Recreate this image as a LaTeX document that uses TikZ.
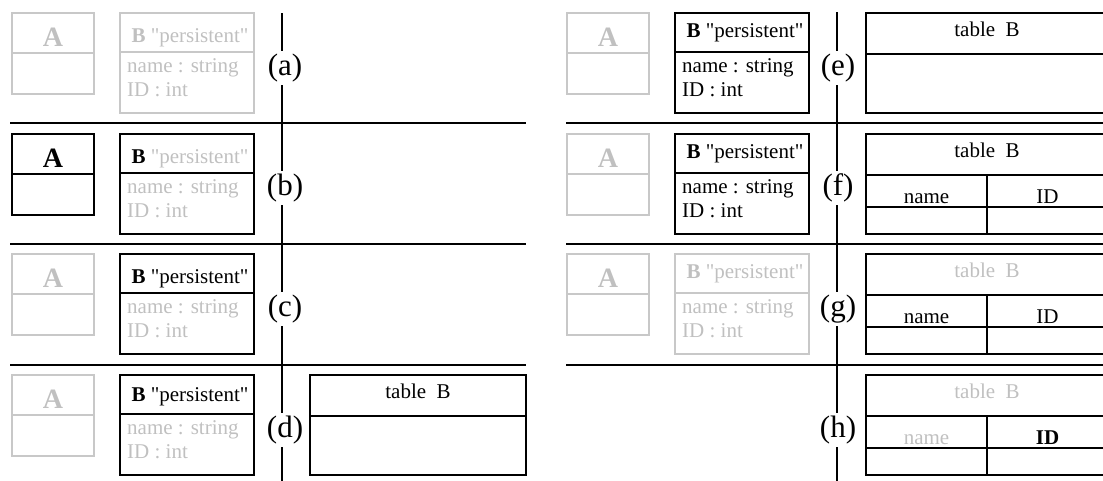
\documentclass[tikz,border=0pt]{standalone}
\usepackage{fontspec}
\setmainfont{Liberation Serif}
\newfontfamily\rawserif{Liberation Serif}
\definecolor{lg}{RGB}{200,200,200}
\definecolor{lt}{RGB}{192,192,192}
\tikzset{
  box/.style={line width=2pt},
  sep/.style={line width=2pt, black},
  txt/.style={inner sep=0pt, font=\rawserif\fontsize{21}{25}\selectfont},
  bigA/.style={inner sep=0pt, font=\rawserif\fontsize{28}{32}\selectfont\bfseries},
  lab/.style={fill=white, inner sep=2.5pt, font=\rawserif\fontsize{31}{35}\selectfont},
}
\newcommand\Bty{29}
% #1 name, #2 x, #3 y, #4 line colour, #5 text colour
\newcommand\mkA[5]{%
  \draw[box,#4] (#2,#3) rectangle ++(82,81);
  \draw[box,#4] (#2,#3+40) -- ++(82,0);
  \node[bigA,text=#5,anchor=base] (#1) at (#2+41,#3+33) {A};
}
% #1 name, #2 x, #3 y, #4 line colour, #5 B colour, #6 persistent colour, #7 attr colour
\newcommand\mkB[7]{%
  \draw[box,#4] (#2,#3) rectangle ++(134,100);
  \draw[box,#4] (#2,#3+39) -- ++(134,0);
  \node[txt,anchor=base] (#1t) at (#2+70,#3+\Bty) {\textcolor{#5}{\textbf{B}} \textcolor{#6}{"persistent"}};
  \node[txt,anchor=base west,text=#7] (#1n) at (#2+7,#3+59) {name : string};
  \node[txt,anchor=base west,text=#7] (#1i) at (#2+7,#3+83) {ID : int};
}
% #1 name, #2 x, #3 y, #4 width, #5 title colour
\newcommand\mkT[5]{%
  \draw[box,black] (#2,#3) rectangle ++(#4,100);
  \draw[box,black] (#2,#3+41) -- ++(#4,0);
  \node[txt,anchor=base,text=#5] (#1t) at (#2+#4/2,#3+23) {table\ \ B};
}
% #1 name, #2 x, #3 y, #4 width, #5 title colour, #6 name text, #7 ID text
\newcommand\mkTc[7]{%
  \mkT{#1}{#2}{#3}{#4}{#5}
  \draw[box,black] (#2,#3+73) -- ++(#4,0);
  \draw[box,black] (#2+121,#3+41) -- ++(0,59);
  \node[txt,anchor=base] (#1n) at (#2+60.5,#3+69) {#6};
  \node[txt,anchor=base] (#1i) at (#2+121+60.5,#3+69) {#7};
}
\begin{document}
\begin{tikzpicture}[x=1pt,y=-1pt]
\useasboundingbox (0,0) rectangle (1103,480);
\clip (0,0) rectangle (1103,480);
% separators
\foreach \yy in {123,244,365} {
  \draw[sep] (10,\yy) -- (526,\yy);
  \draw[sep] (566,\yy) -- (1103,\yy);
}
% vertical lines
\coordinate (vLt) at (282,13); \coordinate (vLb) at (282,482);
\coordinate (vRt) at (837,12); \coordinate (vRb) at (837,482);
\draw[sep] (vLt) -- (vLb);
\draw[sep] (vRt) -- (vRb);
% (a)
\mkA{Aa}{12}{13}{lg}{lt}
\mkB{Ba}{120}{13}{lg}{lt}{lt}{lt}
% (b)
\mkA{Ab}{12}{134}{black}{black}
\mkB{Bb}{120}{134}{black}{black}{lt}{lt}
% (c)
\mkA{Ac}{12}{254}{lg}{lt}
\mkB{Bc}{120}{254}{black}{black}{black}{lt}
% (d)
\renewcommand\Bty{26}
\mkA{Ad}{12}{375}{lg}{lt}
\mkB{Bd}{120}{375}{black}{black}{black}{lt}
\mkT{Td}{310}{375}{216}{black}
% (e)
\renewcommand\Bty{24}
\mkA{Ae}{567}{13}{lg}{lt}
\mkB{Be}{675}{13}{black}{black}{black}{black}
\mkT{Te}{866}{13}{242}{black}
% (f)
\mkA{Af}{567}{134}{lg}{lt}
\mkB{Bf}{675}{134}{black}{black}{black}{black}
\mkTc{Tf}{866}{134}{242}{black}{name}{ID}
% (g)
\mkA{Ag}{567}{254}{lg}{lt}
\mkB{Bg}{675}{254}{lg}{lt}{lt}{lt}
\mkTc{Tg}{866}{254}{242}{lt}{name}{ID}
% (h)
\mkTc{Th}{866}{375}{242}{lt}{\textcolor{lt}{name}}{\textbf{ID}}
% labels
\node[lab] (la) at (285,68) {(a)};
\node[lab] (lb) at (285,188) {(b)};
\node[lab] (lc) at (285,309) {(c)};
\node[lab] (ld) at (285,430) {(d)};
\node[lab] (le) at (838,68) {(e)};
\node[lab] (lf) at (838,188) {(f)};
\node[lab] (lg) at (838,309) {(g)};
\node[lab] (lh) at (838,430) {(h)};
\end{tikzpicture}
\end{document}
